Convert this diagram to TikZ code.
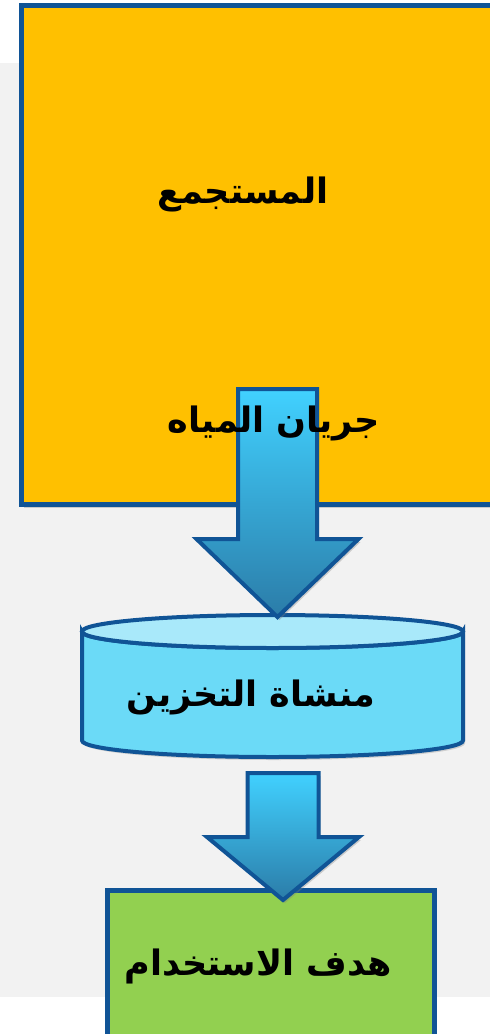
\documentclass[tikz,border=0pt]{standalone}
\usepackage{fontspec}
\newfontfamily\arabicfont[Script=Arabic]{DejaVu Sans}
\TeXXeTstate=1
\usetikzlibrary{shadows}
\definecolor{bord}{RGB}{16,84,150}
\definecolor{bggray}{RGB}{242,242,242}
\definecolor{yfill}{RGB}{255,192,0}
\definecolor{gfill}{RGB}{146,208,80}
\definecolor{cylbody}{RGB}{107,218,247}
\definecolor{cyltop}{RGB}{169,233,250}
\definecolor{arrtop}{RGB}{65,209,255}
\definecolor{arrbot}{RGB}{43,124,168}
\tikzset{
  boxshape/.style={draw=bord, line width=5pt, outer sep=0pt, inner sep=0pt,
    drop shadow={opacity=0.35, shadow xshift=2pt, shadow yshift=-3pt}},
  blockarrow/.style={draw=bord, line width=4pt, line join=miter,
    top color=arrtop, bottom color=arrbot,
    drop shadow={opacity=0.35, shadow xshift=2pt, shadow yshift=-3pt}},
  lbl/.style={font=\arabicfont\bfseries\fontsize{35}{40}\selectfont, text=black, inner sep=0pt}
}
\begin{document}
\begin{tikzpicture}[x=1pt,y=-1pt]
\useasboundingbox (0,0) rectangle (490,1034);
\clip (0,0) rectangle (490,1034);
\fill[bggray] (0,63) rectangle (490,997);

% catchment box
\node[boxshape, fill=yfill, anchor=north west, minimum width=520pt, minimum height=499pt] (catch) at (21.5,5.5) {};
\node[lbl] (t1) at (243,194) {\beginR المستجمع\endR};

% storage cylinder
\coordinate (cyl) at (272.5,631.5);
\begin{scope}[shift={(cyl)}]
  \path[draw=bord, line width=4pt, fill=cylbody,
    drop shadow={opacity=0.3, shadow xshift=2pt, shadow yshift=-3pt}]
    (-190.5,0) -- (-190.5,109) arc[start angle=180, end angle=0, x radius=190.5, y radius=16.5]
    -- (190.5,0) arc[start angle=0, end angle=180, x radius=190.5, y radius=16.5] -- cycle;
  \draw[bord, line width=4pt, fill=cyltop] (0,0) ellipse[x radius=190.5, y radius=16.5];
\end{scope}
\node[lbl] (t3) at (251,697) {\beginR منشاة التخزين\endR};

% arrow 1
\coordinate (a1) at (277.5,389);
\begin{scope}[shift={(a1)}]
  \path[blockarrow] (-39.5,0) -- (39.5,0) -- (39.5,150) -- (81,150) -- (0,228) -- (-81,150) -- (-39.5,150) -- cycle;
\end{scope}
\node[lbl] (t2) at (274,423) {\beginR جريان المياه\endR};

% use box
\node[boxshape, fill=gfill, anchor=north west, minimum width=327pt, minimum height=200pt] (use) at (107.5,890.5) {};
\node[lbl] (t4) at (258,966) {\beginR هدف الاستخدام\endR};

% arrow 2
\coordinate (a2) at (283,773);
\begin{scope}[shift={(a2)}]
  \path[blockarrow] (-35.5,0) -- (35.5,0) -- (35.5,64) -- (76,64) -- (0,127) -- (-76,64) -- (-35.5,64) -- cycle;
\end{scope}
\end{tikzpicture}
\end{document}
